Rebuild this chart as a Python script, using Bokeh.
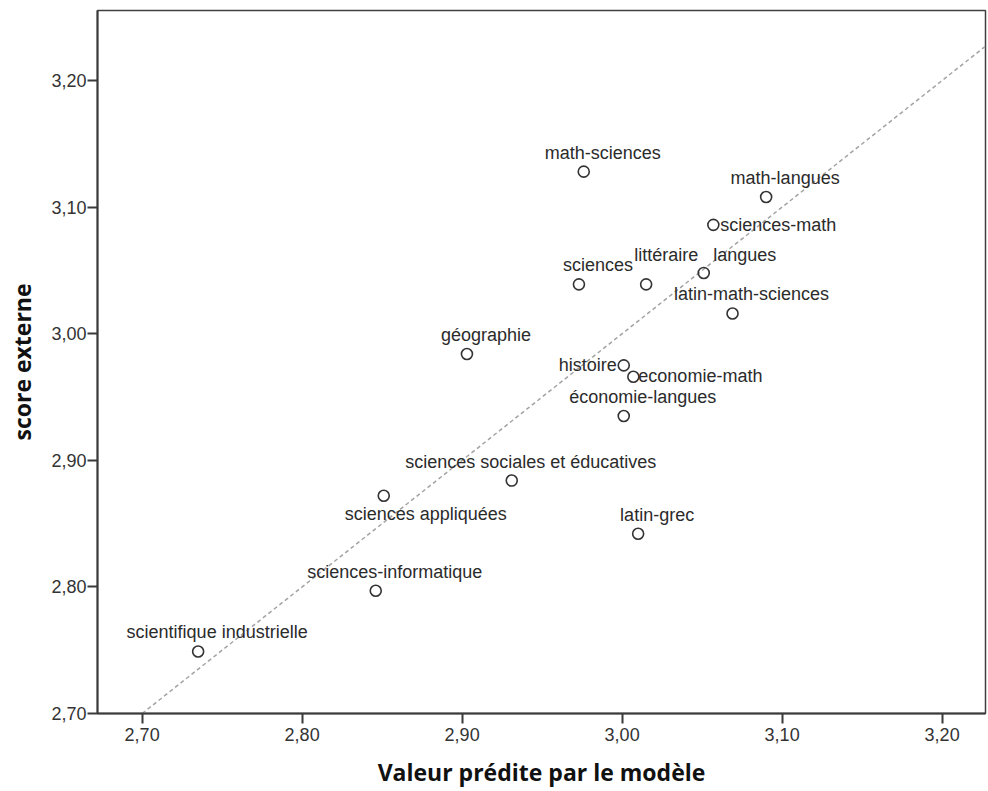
from bokeh.plotting import figure
from bokeh.models import ColumnDataSource, FixedTicker, Slope, Range1d
from bokeh.embed import file_html
from bokeh.resources import INLINE

# ---- data ----
groups = ["math-sciences", "math-langues", "sciences-math", "langues", "littéraire",
          "sciences", "latin-math-sciences", "géographie", "histoire", "economie-math",
          "économie-langues", "sciences sociales et éducatives", "sciences appliquées",
          "latin-grec", "sciences-informatique", "scientifique industrielle"]
predicted = [2.976, 3.090, 3.057, 3.051, 3.015, 2.973, 3.069, 2.903, 3.001, 3.007,
             3.001, 2.931, 2.851, 3.010, 2.846, 2.735]
observed = [3.128, 3.108, 3.086, 3.048, 3.039, 3.039, 3.016, 2.984, 2.975, 2.966,
            2.935, 2.884, 2.872, 2.842, 2.797, 2.749]

x_ticks = [2.70, 2.80, 2.90, 3.00, 3.10, 3.20]
x_tick_labels = ["2,70", "2,80", "2,90", "3,00", "3,10", "3,20"]
y_ticks = [2.70, 2.80, 2.90, 3.00, 3.10, 3.20]
y_tick_labels = ["2,70", "2,80", "2,90", "3,00", "3,10", "3,20"]

x_title = "Valeur prédite par le modèle"
y_title = "score externe"

# ---- label placement (layout only, screen pixels) ----
default_place = (19, -19, "center")
special_place = {
    "sciences-math": (7, 0, "left"),
    "histoire": (-7, 0, "right"),
    "economie-math": (5, -1, "left"),
    "littéraire": (20, -29, "center"),
    "langues": (41, -18, "center"),
    "sciences appliquées": (42, 18, "center"),
}
dx, dy, align = [], [], []
for g in groups:
    a, b, c = special_place.get(g, default_place)
    dx.append(a); dy.append(b); align.append(c)

src = ColumnDataSource(dict(x=predicted, y=observed, name=groups, dx=dx, dy=dy, align=align))

W, H = 988, 791
p = figure(width=W, height=H, output_backend="svg", toolbar_location=None,
           x_range=Range1d(2.6721, 3.2271), y_range=Range1d(2.70, 3.2553),
           min_border_left=97, min_border_right=3, min_border_top=10, min_border_bottom=78)
p.grid.visible = False
p.outline_line_color = "#404040"
p.outline_line_width = 1.5
p.background_fill_color = "white"
p.border_fill_color = "white"

p.add_layout(Slope(gradient=1, y_intercept=0, line_color="#a3a3a3", line_width=1.5,
                   line_dash="4 3", level="underlay"))

p.scatter("x", "y", source=src, size=11, fill_alpha=0, line_color="#333333", line_width=1.6)
p.text("x", "y", text="name", source=src, x_offset="dx", y_offset="dy",
       text_align="align", text_baseline="middle", text_font_size="18px",
       text_font={"value": "Liberation Sans"}, text_color="#2b2b2b")

for ax, ticks, labels in ((p.xaxis[0], x_ticks, x_tick_labels), (p.yaxis[0], y_ticks, y_tick_labels)):
    ax.ticker = FixedTicker(ticks=ticks)
    ax.major_label_overrides = {t: l for t, l in zip(ticks, labels)}
    ax.minor_tick_line_color = None
    ax.major_tick_in = 0
    ax.major_tick_out = 10
    ax.axis_line_color = "#3a3a3a"
    ax.axis_line_width = 2
    ax.major_tick_line_color = "#3a3a3a"
    ax.major_tick_line_width = 2
    ax.major_label_text_font = "Liberation Sans"
    ax.major_label_text_font_size = "18px"
    ax.major_label_text_color = "#333333"
    ax.axis_label_text_font = "Open Sans"
    ax.axis_label_text_font_style = "bold"
    ax.axis_label_text_font_size = "23px"
    ax.axis_label_text_color = "#111111"

p.xaxis.axis_label = x_title
p.yaxis.axis_label = y_title
p.xaxis.major_label_standoff = 4
p.yaxis.major_label_standoff = 1
p.xaxis.axis_label_standoff = 12
p.yaxis.axis_label_standoff = 10

open("out.html", "w").write(file_html(p, INLINE))
